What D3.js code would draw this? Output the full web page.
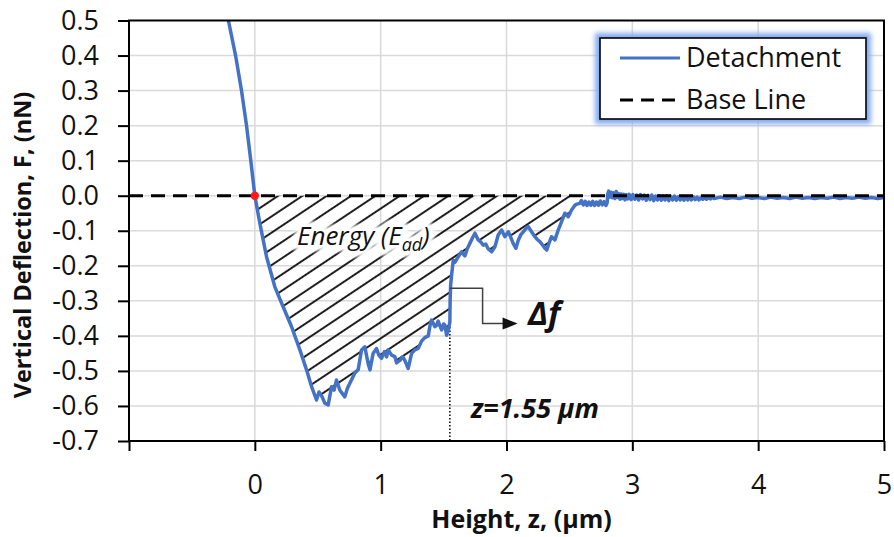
<!DOCTYPE html>
<html><head><meta charset="utf-8">
<script src="https://cdn.jsdelivr.net/npm/d3@7"></script>
<style>
html,body{margin:0;padding:0;background:#fff;}
svg{display:block;font-family:"Open Sans",sans-serif;}
</style></head>
<body><svg id="chart" width="894" height="537"></svg>
<script>
// ---- data ----
const heightZ = [
-0.21,-0.153,-0.106,-0.066,-0.032,0.000,0.040,0.093,0.159,0.225,0.292,0.358,0.411,0.451,0.490,0.510,0.530,0.556,0.583,0.610,
0.630,0.649,0.676,0.715,0.735,0.755,0.795,0.821,0.848,0.874,0.901,0.915,0.940,0.967,0.985,1.007,1.030,1.047,1.060,1.087,
1.113,1.126,1.153,1.175,1.192,1.219,1.246,1.272,1.298,1.325,1.351,1.378,1.395,1.405,1.431,1.444,1.457,1.484,1.500,1.510,
1.524,1.537,1.550,1.552,1.556,1.564,1.577,1.590,1.617,1.643,1.669,1.690,1.709,1.730,1.749,1.775,1.795,1.815,1.835,1.855,
1.882,1.908,1.934,1.961,1.987,2.014,2.033,2.053,2.075,2.093,2.113,2.133,2.155,2.172,2.199,2.226,2.245,2.265,2.285,2.305,
2.320,2.332,2.358,2.385,2.411,2.438,2.464,2.491,2.517,2.544,2.560,
2.583,2.595,2.610,2.625,2.640,2.655,2.670,2.685,2.700,2.715,2.730,2.745,2.760,2.775,2.790,2.800,2.805,
2.812,2.822,2.832,2.842,2.852,2.862,2.872,2.882,2.892,2.902,2.912,2.922,2.932,2.942,2.952,2.962,2.975,2.990,3.005,3.020,
3.035,3.050,3.065,3.080,3.095,3.110,3.125,3.140,3.155,3.170,3.185,3.200,3.215,3.230,3.245,3.260,3.275,3.290,3.305,3.320,
3.335,3.350,3.365,3.380,3.395,3.410,3.425,3.440,3.455,3.470,3.485,3.500,3.515,3.530,3.545,3.560,3.575,3.590,3.605,3.620,
3.635,3.650,3.700,3.750,3.800,3.850,3.900,3.950,4.000,4.050,
4.100,4.150,4.200,4.250,4.300,4.350,4.400,4.450,4.500,4.550,4.600,4.650,4.700,4.750,4.800,4.850,4.900,4.950,5.000];
const deflectionF = [
0.50,0.40,0.30,0.20,0.10,0.000,-0.079,-0.174,-0.260,-0.317,-0.374,-0.440,-0.497,-0.545,-0.583,-0.560,-0.570,-0.592,-0.597,-0.545,
-0.555,-0.526,-0.555,-0.574,-0.550,-0.535,-0.506,-0.497,-0.440,-0.431,-0.480,-0.497,-0.450,-0.436,-0.455,-0.464,-0.445,-0.460,-0.440,-0.455,
-0.459,-0.477,-0.470,-0.460,-0.470,-0.493,-0.450,-0.440,-0.436,-0.415,-0.405,-0.400,-0.365,-0.355,-0.374,-0.370,-0.358,-0.383,-0.366,-0.369,
-0.398,-0.385,-0.360,-0.300,-0.255,-0.225,-0.184,-0.190,-0.174,-0.160,-0.172,-0.150,-0.136,-0.120,-0.107,-0.126,-0.132,-0.141,-0.138,-0.152,
-0.160,-0.146,-0.112,-0.098,-0.117,-0.103,-0.118,-0.136,-0.150,-0.128,-0.112,-0.103,-0.093,-0.088,-0.103,-0.117,-0.125,-0.131,-0.140,-0.150,
-0.155,-0.141,-0.117,-0.126,-0.098,-0.074,-0.050,-0.060,-0.041,-0.027,-0.024,
-0.022,-0.014,-0.026,-0.016,-0.028,-0.018,-0.027,-0.016,-0.028,-0.018,-0.027,-0.015,-0.026,-0.017,-0.028,-0.020,0.005,
0.013,-0.004,0.010,-0.006,0.008,-0.008,0.012,-0.005,0.006,-0.010,0.005,-0.008,0.004,-0.012,0.003,-0.009,0.004,-0.011,0.003,-0.010,
0.002,-0.012,0.003,-0.009,0.002,-0.013,0.001,-0.011,0.002,-0.014,-0.001,-0.012,0.000,-0.013,-0.001,-0.012,0.000,-0.014,-0.002,-0.012,
-0.001,-0.013,-0.003,-0.012,-0.002,-0.013,-0.003,-0.012,-0.004,-0.012,-0.003,-0.011,-0.004,-0.012,-0.005,-0.010,-0.004,-0.010,-0.005,-0.009,
-0.004,-0.008,-0.004,-0.008,-0.005,-0.008,-0.004,-0.007,-0.005,-0.008,
-0.004,-0.007,-0.005,-0.008,-0.004,-0.007,-0.005,-0.008,-0.005,-0.007,-0.004,-0.008,-0.005,-0.007,-0.004,-0.007,-0.005,-0.008,-0.005];
const baseLineZ = [-1, 5];
const baseLineF = [0, 0];
const xTicks = [-1, 0, 1, 2, 3, 4, 5];
const xTickLabels = ["", "0", "1", "2", "3", "4", "5"];
const yTicks = [-0.7,-0.6,-0.5,-0.4,-0.3,-0.2,-0.1,0.0,0.1,0.2,0.3,0.4,0.5];
const energyRange = [0, 2.56];
const jumpZ = 1.55;
const seriesNames = ["Detachment", "Base Line"];

// ---- layout ----
const svg = d3.select("#chart");
const L = 129, R = 884, T = 20.5, B = 441;
const x = d3.scaleLinear().domain([-1, 5]).range([L, R]);
const y = d3.scaleLinear().domain([-0.7, 0.5]).range([B, T]);
const blue = "#4472C4";

const defs = svg.append("defs");
const pat = defs.append("pattern").attr("id", "hatch")
  .attr("patternUnits", "userSpaceOnUse").attr("width", 13.5).attr("height", 13.5)
  .attr("patternTransform", "rotate(-33.7)");
pat.append("line").attr("x1", -1).attr("x2", 14.5).attr("y1", 6.75).attr("y2", 6.75)
  .attr("stroke", "#1e1e1e").attr("stroke-width", 2);
const blur = defs.append("filter").attr("id", "blur").attr("x", "-20%").attr("y", "-50%").attr("width", "140%").attr("height", "200%");
blur.append("feGaussianBlur").attr("stdDeviation", 2.2);
const glow = defs.append("filter").attr("id", "glow").attr("x", "-20%").attr("y", "-40%").attr("width", "140%").attr("height", "180%");
glow.append("feGaussianBlur").attr("stdDeviation", 2.5);

const pts = heightZ.map((z, i) => ({z, f: deflectionF[i]}));

// grid
const g = svg.append("g");
g.selectAll(".gy").data(yTicks.slice(1, -1)).join("line")
  .attr("x1", L).attr("x2", R).attr("y1", d => y(d)).attr("y2", d => y(d))
  .attr("stroke", "#d9d9d9").attr("stroke-width", 1.5);
g.selectAll(".gx").data(xTicks.slice(1, -1)).join("line")
  .attr("y1", T).attr("y2", B).attr("x1", d => x(d)).attr("x2", d => x(d))
  .attr("stroke", "#d9d9d9").attr("stroke-width", 1.5);

// hatched energy area
const areaPts = pts.filter(p => p.z >= energyRange[0] && p.z <= energyRange[1]);
svg.append("path").datum(areaPts)
  .attr("d", d3.area().x(d => x(d.z)).y0(y(0)).y1(d => y(d.f)))
  .attr("fill", "url(#hatch)");

// Energy label with white halo
const eg = svg.append("g").attr("font-style", "italic").attr("font-size", 26);
function energyText(sel) {
  sel.attr("x", 297).attr("y", 245);
  sel.append("tspan").text("Energy (E");
  sel.append("tspan").attr("font-size", 18).attr("dy", 6).text("ad");
  sel.append("tspan").attr("dy", -6).text(")");
}
eg.append("text").call(energyText).attr("fill", "#fff").attr("stroke", "#fff")
  .attr("stroke-width", 12).attr("stroke-linejoin", "round").attr("filter", "url(#blur)");
eg.append("text").call(energyText).attr("fill", "#111");

// dotted marker line
svg.append("line").attr("x1", x(jumpZ)).attr("x2", x(jumpZ)).attr("y1", y(-0.345)).attr("y2", y(-0.7))
  .attr("stroke", "#000").attr("stroke-width", 1.5).attr("stroke-dasharray", "1.5,2");

// curve
svg.append("path").datum(pts)
  .attr("d", d3.line().x(d => x(d.z)).y(d => y(d.f)))
  .attr("fill", "none").attr("stroke", blue).attr("stroke-width", 3.5).attr("stroke-linejoin", "round");

// base line
svg.append("path").datum(baseLineZ.map((z, i) => ({z, f: baseLineF[i]})))
  .attr("d", d3.line().x(d => x(d.z)).y(d => y(d.f)))
  .attr("fill", "none").attr("stroke", "#000").attr("stroke-width", 3).attr("stroke-dasharray", "14,8");

// red contact point
svg.append("circle").attr("cx", x(0)).attr("cy", y(0)).attr("r", 4.2).attr("fill", "#ff1a1a");

// delta f arrow
const ax0 = x(jumpZ), ay0 = y(-0.264), ax1 = x(1.81), ay1 = y(-0.365);
svg.append("path").attr("d", `M${ax0},${ay0}H${ax1}V${ay1}H${ax1 + 22}`)
  .attr("fill", "none").attr("stroke", "#404040").attr("stroke-width", 1.5);
svg.append("path").attr("d", `M${ax1 + 20},${ay1 - 6}L${ax1 + 35},${ay1}L${ax1 + 20},${ay1 + 6}Z`).attr("fill", "#111");
svg.append("text").attr("x", 528).attr("y", 325).attr("font-size", 33)
  .attr("font-weight", "bold").attr("font-style", "italic").attr("fill", "#111").text("Δf");
svg.append("text").attr("x", 471).attr("y", 418).attr("font-size", 27)
  .attr("font-weight", "bold").attr("font-style", "italic").attr("fill", "#111").text("z=1.55 µm");

// frame
svg.append("rect").attr("x", L).attr("y", T).attr("width", R - L).attr("height", B - T)
  .attr("fill", "none").attr("stroke", "#000").attr("stroke-width", 2);

// axes
const xAxis = svg.append("g").attr("transform", `translate(0,${B})`)
  .call(d3.axisBottom(x).tickValues(xTicks).tickSize(10).tickPadding(24).tickFormat((d, i) => xTickLabels[i]));
const yAxis = svg.append("g").attr("transform", `translate(${L},0)`)
  .call(d3.axisLeft(y).tickValues(yTicks).tickSize(11).tickPadding(19).tickFormat(d3.format(".1f")));
[xAxis, yAxis].forEach(a => {
  a.select(".domain").remove();
  a.selectAll(".tick line").attr("stroke", "#000").attr("stroke-width", 2);
  a.selectAll(".tick text").attr("font-family", "'Open Sans',sans-serif").attr("font-size", 27).attr("fill", "#111");
});
yAxis.selectAll(".tick text").text(d => d3.format(".1f")(d).replace("−", "-"));

// axis titles
svg.append("text").attr("x", (L + R) / 2 + 15).attr("y", 528).attr("text-anchor", "middle")
  .attr("font-size", 25).attr("font-weight", "bold").attr("fill", "#111").text("Height, z, (µm)");
svg.append("text").attr("transform", `translate(31,${245}) rotate(-90)`).attr("text-anchor", "middle")
  .attr("font-size", 23.5).attr("font-weight", "bold").attr("fill", "#111").text("Vertical Deflection, F, (nN)");

// legend
const lg = svg.append("g");
lg.append("rect").attr("x", 600).attr("y", 38).attr("width", 266).attr("height", 81)
  .attr("fill", "none").attr("stroke", "#85aaf0").attr("stroke-width", 10).attr("filter", "url(#glow)");
lg.append("rect").attr("x", 600).attr("y", 38).attr("width", 266).attr("height", 81)
  .attr("fill", "#fff").attr("stroke", "#000").attr("stroke-width", 1.6);
lg.append("line").attr("x1", 620).attr("x2", 680).attr("y1", 58).attr("y2", 58)
  .attr("stroke", blue).attr("stroke-width", 3);
lg.append("line").attr("x1", 620).attr("x2", 679).attr("y1", 100).attr("y2", 100)
  .attr("stroke", "#000").attr("stroke-width", 3).attr("stroke-dasharray", "13,8");
lg.selectAll(".lt").data(seriesNames).join("text")
  .attr("x", 686).attr("y", (d, i) => 67 + i * 41.5).attr("font-size", 27).attr("fill", "#111").text(d => d);
</script></body></html>
